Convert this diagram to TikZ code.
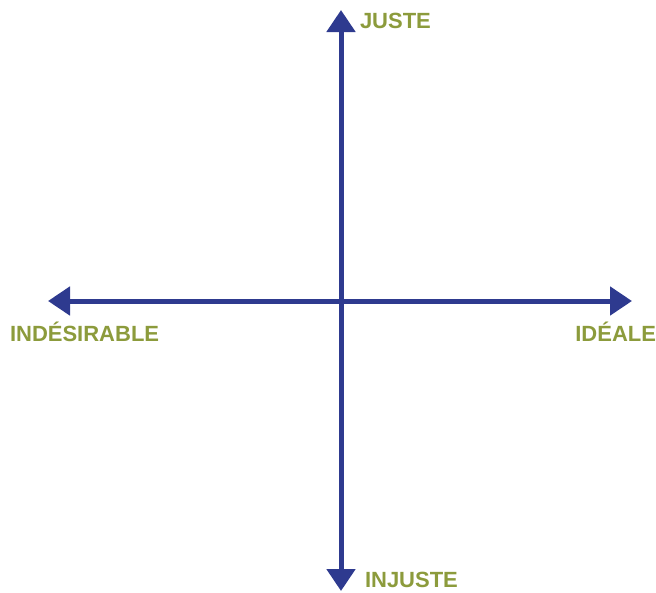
\documentclass[tikz,border=0pt]{standalone}
\usepackage{fontspec}
\setmainfont{Liberation Sans}
\usetikzlibrary{arrows.meta, positioning}
\definecolor{axisblue}{HTML}{2E3A8F}
\definecolor{labelgreen}{HTML}{8C9B3C}

\begin{document}
\begin{tikzpicture}[
    x=1pt, y=-1pt,
    axis/.style={draw=axisblue, line width=5pt, {Triangle[length=22pt, width=28pt]}-{Triangle[length=22pt, width=28pt]}},
    label/.style={text=labelgreen, font=\fontsize{22}{24}\selectfont\bfseries, inner sep=0pt, outer sep=0pt}
]
\useasboundingbox (0,0) rectangle (656,592);
\coordinate (top) at (341,10);
\coordinate (bottom) at (341,591);
\coordinate (left) at (48,301);
\coordinate (right) at (632,301);
\node [label, anchor=west] (juste) at (360,21) {JUSTE};
\node [label, anchor=west] (injuste) at (365,580) {INJUSTE};
\node [label, anchor=west] (indesirable) at (10,332) {INDÉSIRABLE};
\node [label, anchor=east] (ideale) at (656,332) {IDÉALE};
\path [axis] (left) -- (right);
\path [axis] (bottom) -- (top);
\end{tikzpicture}
\end{document}
